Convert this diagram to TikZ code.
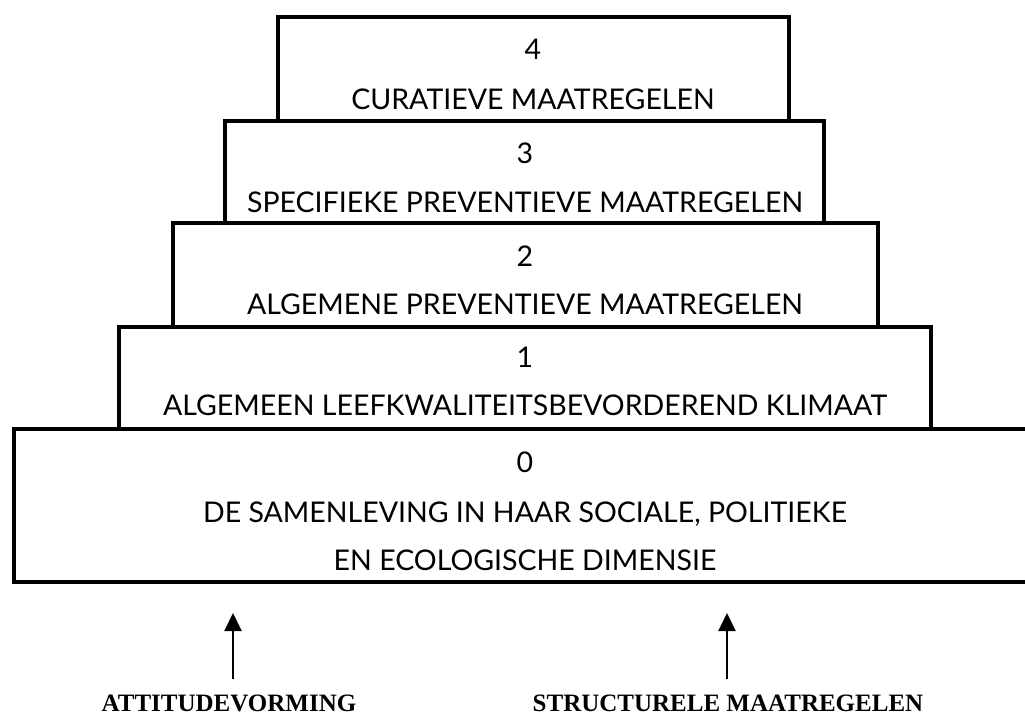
\documentclass[tikz,border=0pt]{standalone}
\usepackage{fontspec}
\setmainfont{Liberation Serif}
\newfontfamily\gillfont{Lato}
\usetikzlibrary{arrows.meta}

\begin{document}
\begin{tikzpicture}[x=1pt,y=-1pt,
		level/.style={draw,line width=4pt,inner sep=0pt},
		lbl/.style={anchor=base,inner sep=0pt,font=\gillfont\fontsize{28.5}{32}\selectfont},
		foot/.style={anchor=base,inner sep=0pt,font=\bfseries\fontsize{25}{28}\selectfont},
		up/.style={line width=2pt,-{Triangle[length=18pt,width=17pt]}}]
		\useasboundingbox (0,0) rectangle (1025,717);
		% the five levels, bottom to top
		\draw (524.35,505.5) 	node (b0) [level,minimum width=1021.3pt,minimum height=153pt] {};
		\draw (524.6,378) 		node (b1) [level,minimum width=811.8pt,minimum height=102pt] {};
		\draw (525.25,275) 		node (b2) [level,minimum width=705.5pt,minimum height=104pt] {};
		\draw (524.5,171.75) 	node (b3) [level,minimum width=599pt,minimum height=102.5pt] {};
		\draw (533.1,68.75) 	node (b4) [level,minimum width=510.8pt,minimum height=103.5pt] {};
		% texts
		\draw (525,472) 	node (n0) [lbl] {0};
		\draw (525,522) 	node (t0) [lbl] {DE SAMENLEVING IN HAAR SOCIALE, POLITIEKE};
		\draw (525,570) 	node (u0) [lbl] {EN ECOLOGISCHE DIMENSIE};
		\draw (525,367) 	node (n1) [lbl] {1};
		\draw (525,415) 	node (t1) [lbl] {ALGEMEEN LEEFKWALITEITSBEVORDEREND KLIMAAT};
		\draw (525,266) 	node (n2) [lbl] {2};
		\draw (525,314) 	node (t2) [lbl] {ALGEMENE PREVENTIEVE MAATREGELEN};
		\draw (525,163) 	node (n3) [lbl] {3};
		\draw (525,212) 	node (t3) [lbl] {SPECIFIEKE PREVENTIEVE MAATREGELEN};
		\draw (533,59.5) 	node (n4) [lbl] {4};
		\draw (533,109) 	node (t4) [lbl] {CURATIEVE MAATREGELEN};
		% the two inputs
		\draw (229,711) 	node (att) [foot] {ATTITUDEVORMING};
		\draw (728,711) 	node (str) [foot] {STRUCTURELE MAATREGELEN};
		\coordinate (a0) at (233,679);
		\coordinate (a1) at (233,613);
		\coordinate (s0) at (727,679);
		\coordinate (s1) at (727,613);
		\draw [up] (a0) -- (a1);
		\draw [up] (s0) -- (s1);
	\end{tikzpicture}
\end{document}
